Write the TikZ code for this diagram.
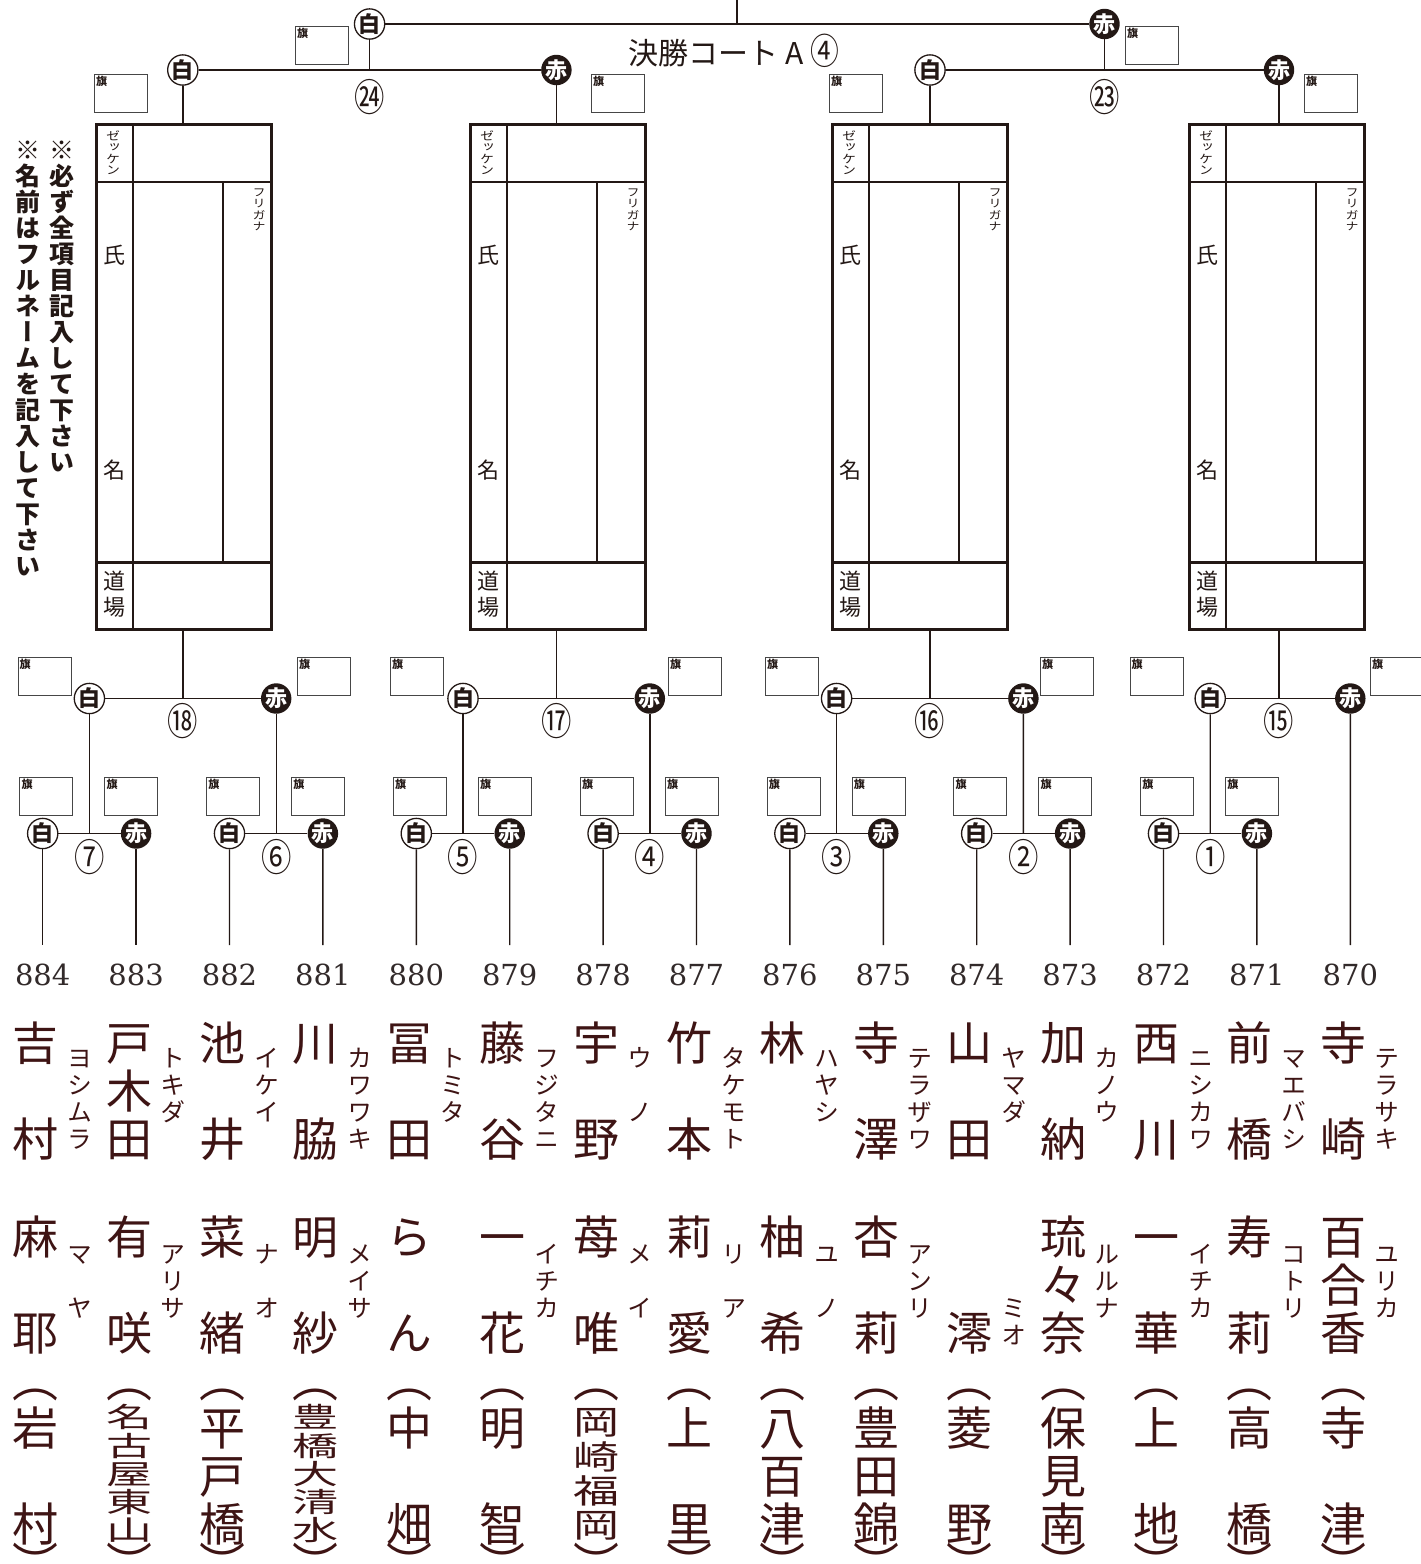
\documentclass[tikz,border=0pt]{standalone}
\usepackage{fontspec}
\usepackage{graphicx}
\newfontfamily\jp{Noto Sans CJK JP}
\newfontfamily\vjp[RawFeature=+vert]{Noto Sans CJK JP}
\newfontfamily\numfont{DejaVu Serif}
\definecolor{ink}{RGB}{35,24,21}
\definecolor{namecol}{RGB}{62,20,20}
\definecolor{numcol}{RGB}{50,42,42}
\definecolor{flagcol}{RGB}{70,70,70}

% vertical text: one character per cell
\newlength\tatepitch
\newcommand\tatescl{1}
\newcommand\tatetext[3]{%
  \setlength\tatepitch{#1}\renewcommand\tatescl{#2}%
  \vbox{\offinterlineskip\expandafter\tateA#3\relax}}
\newcommand\tateA[1]{%
  \ifx\relax#1\else
    \vbox to\tatepitch{\vss\hbox to 1em{\hss\scalebox{1}[\tatescl]{\vrule height .88em depth .12em width 0pt\relax#1}\hss}\vss}%
    \expandafter\tateA
  \fi}
\newcommand\maru[1]{\scalebox{0.8}[1]{#1}}

\tikzset{
  bline/.style={draw=ink, line width=1.4pt},
  shiro/.style={circle, draw=ink, line width=1.3pt, fill=white, minimum size=29pt, inner sep=0pt,
    text=ink, font=\jp\bfseries\fontsize{22pt}{22pt}\selectfont},
  aka/.style={circle, fill=ink, minimum size=30pt, inner sep=0pt,
    text=white, font=\jp\bfseries\fontsize{22pt}{22pt}\selectfont},
  flag/.style={draw=flagcol, line width=1pt, minimum width=53pt, minimum height=38pt, inner sep=0pt,
    anchor=north west, label={[anchor=north west, inner sep=2pt, text=ink,
    font=\jp\bfseries\fontsize{11pt}{11pt}\selectfont]north west:旗}},
  form/.style={draw=ink, line width=2.6pt, minimum width=175pt, minimum height=505pt, inner sep=0pt},
  formline/.style={draw=ink, line width=2.6pt},
  formthin/.style={draw=ink, line width=2pt},
  flab/.style={inner sep=0pt, text=ink, font=\vjp\fontsize{22pt}{26pt}\selectfont},
  ftiny/.style={anchor=north, inner sep=0pt, text=ink, font=\vjp\fontsize{14pt}{14pt}\selectfont},
  note/.style={anchor=north, inner sep=0pt, text=ink, font=\vjp\bfseries\fontsize{25pt}{26pt}\selectfont},
  kanji/.style={anchor=north, inner sep=0pt, text=namecol, font=\vjp\fontsize{46pt}{48pt}\selectfont},
  kana/.style={anchor=north, inner sep=0pt, text=namecol, font=\vjp\fontsize{25pt}{27pt}\selectfont},
  plnum/.style={inner sep=0pt, text=numcol, font=\numfont\fontsize{29pt}{29pt}\selectfont},
  mnum/.style={inner sep=0pt, text=ink, font=\jp\fontsize{38pt}{38pt}\selectfont},
  court/.style={inner sep=0pt, text=ink, font=\jp\fontsize{30pt}{30pt}\selectfont}
}

% entry form: name, left x
\newcommand\entryform[2]{%
  \node[form, anchor=north west] (#1) at (#2,123) {};
  \draw[formline] ([yshift=-59pt]#1.north west) -- ([yshift=-59pt]#1.north east);
  \draw[formline] ([yshift=68pt]#1.south west) -- ([yshift=68pt]#1.south east);
  \draw[formline] ([xshift=38pt]#1.north west) -- ([xshift=38pt]#1.south west);
  \draw[formthin] ([shift={(128pt,-59pt)}]#1.north west) -- ([shift={(128pt,68pt)}]#1.south west);
  \node[ftiny] at ([shift={(18pt,-7pt)}]#1.north west) {\tatetext{11.5pt}{0.85}{ゼッケン}};
  \node[flab] at ([shift={(19pt,-132pt)}]#1.north west) {氏};
  \node[flab] at ([shift={(19pt,-347pt)}]#1.north west) {名};
  \node[flab, anchor=north] at ([shift={(19pt,-445pt)}]#1.north west) {\tatetext{26pt}{1}{道場}};
  \node[ftiny, font=\vjp\fontsize{13pt}{13pt}\selectfont] at ([shift={(164pt,-63pt)}]#1.north west) {\tatetext{11.5pt}{0.85}{フリガナ}};
}

% entrant column: k, number, surname, kana, given name, kana, dojo, dojo size
\newcommand\entrant[8]{%
  \pgfmathsetmacro\px{42.7+93.4*#1}%
  \ifcase#8 \def\djgap{0pt}\def\djgapb{-8pt}\def\djpitch{48pt}\def\djscale{1}%
  \or \def\djgap{1pt}\def\djgapb{-2pt}\def\djpitch{34.3pt}\def\djscale{0.72}%
  \or \def\djgap{-1pt}\def\djgapb{-4pt}\def\djpitch{28.2pt}\def\djscale{0.6}\fi
  \coordinate (p#1) at (\px,945);
  \node[plnum] (n#1) at (\px,975) {#2};
  \node[kanji] (sn#1) at (\px-7,1019) {\tatetext{48pt}{1}{#3}};
  \node[kana] (sk#1) at (\px+37,1044.5) {\tatetext{27pt}{1}{#4}};
  \node[kanji] (gn#1) at (\px-7,1213) {\tatetext{48pt}{1}{#5}};
  \node[kana] (gk#1) at (\px+37,1240.5) {\tatetext{27pt}{1}{#6}};
  \node[kanji] (dj#1) at (\px-7,1356) {\vbox{\offinterlineskip
    \tatetext{48pt}{1}{︵}\vskip\djgap
    \tatetext{\djpitch}{\djscale}{#7}\vskip\djgapb
    \tatetext{48pt}{1}{︶}}};
}

\begin{document}
\begin{tikzpicture}[x=1pt, y=-1pt]
  \path[use as bounding box, fill=white] (0,0) rectangle (1421,1564);

  % notes
  \node[note] (note1) at (61.5,137) {\tatetext{26pt}{1}{※必ず全項目記入して下さい}};
  \node[note] (note2) at (28,137) {\tatetext{26pt}{1}{※名前はフルネームを記入して下さい}};

  % entry forms
  \entryform{form1}{95}
  \entryform{form2}{469}
  \entryform{form3}{831}
  \entryform{form4}{1188}

  % entrants
  \entrant{0}{884}{吉　村}{ヨシムラ}{麻　耶}{マ　ヤ}{岩　村}{0}
  \entrant{1}{883}{戸木田}{トキダ}{有　咲}{アリサ}{名古屋東山}{2}
  \entrant{2}{882}{池　井}{イケイ}{菜　緒}{ナ　オ}{平戸橋}{0}
  \entrant{3}{881}{川　脇}{カワワキ}{明　紗}{メイサ}{豊橋大清水}{2}
  \entrant{4}{880}{冨　田}{トミタ}{ら　ん}{}{中　畑}{0}
  \entrant{5}{879}{藤　谷}{フジタニ}{一　花}{イチカ}{明　智}{0}
  \entrant{6}{878}{宇　野}{ウ　ノ}{苺　唯}{メ　イ}{岡崎福岡}{1}
  \entrant{7}{877}{竹　本}{タケモト}{莉　愛}{リ　ア}{上　里}{0}
  \entrant{8}{876}{林}{ハヤシ}{柚　希}{ユ　ノ}{八百津}{0}
  \entrant{9}{875}{寺　澤}{テラザワ}{杏　莉}{アンリ}{豊田錦}{0}
  \entrant{10}{874}{山　田}{ヤマダ}{　　澪}{　　ミオ}{菱　野}{0}
  \entrant{11}{873}{加　納}{カノウ}{琉々奈}{ルルナ}{保見南}{0}
  \entrant{12}{872}{西　川}{ニシカワ}{一　華}{イチカ}{上　地}{0}
  \entrant{13}{871}{前　橋}{マエバシ}{寿　莉}{コトリ}{高　橋}{0}
  \entrant{14}{870}{寺　崎}{テラサキ}{百合香}{ユリカ}{寺　津}{0}

  % first round
  \foreach \i/\cn in {0/⑦,1/⑥,2/⑤,3/④,4/③,5/②,6/①}{
    \pgfmathtruncatemacro\m{7-\i}
    \pgfmathtruncatemacro\kw{2*\i}
    \pgfmathtruncatemacro\kr{2*\i+1}
    \pgfmathsetmacro\xw{42.7+186.8*\i}
    \node[shiro] (w\m) at (\xw,833.5) {白};
    \node[aka] (r\m) at (\xw+93.4,833.5) {赤};
    \coordinate (j\m) at (\xw+46.7,833.5);
    \draw[bline] (w\m) -- (r\m);
    \draw[bline] (w\m) -- (p\kw);
    \draw[bline] (r\m) -- (p\kr);
    \node[mnum] (c\m) at (\xw+46.7,857) {\maru{\cn}};
    \node[flag] at (\xw+46.7-70,777) {};
    \node[flag] at (\xw+46.7+15,777) {};
  }

  % quarter finals
  \foreach \q/\a/\b/\xa/\xb/\cn in {18/7/6/89.4/276.2/⑱,17/5/4/463/649.8/⑰,16/3/2/836.6/1023.4/⑯}{
    \node[shiro] (w\q) at (\xa,698.5) {白};
    \node[aka] (r\q) at (\xb,698.5) {赤};
    \coordinate (q\q) at ({(\xa+\xb)/2},698.5);
    \draw[bline] (w\q) -- (r\q);
    \draw[bline] (j\a) -- (w\q);
    \draw[bline] (j\b) -- (r\q);
    \node[mnum] (c\q) at ({(\xa+\xb)/2},721) {\maru{\cn}};
  }
  \node[shiro] (w15) at (1210.2,698.5) {白};
  \node[aka] (r15) at (1350.3,698.5) {赤};
  \coordinate (q15) at (1279,698.5);
  \draw[bline] (w15) -- (r15);
  \draw[bline] (j1) -- (w15);
  \draw[bline] (r15) -- (p14);
  \node[mnum] (c15) at (1279,721) {\maru{⑮}};

  % semi finals
  \node[shiro] (w24) at (182.8,70) {白};
  \node[aka] (r24) at (556.4,70) {赤};
  \coordinate (s24) at (369.6,70);
  \draw[bline] (w24) -- (r24);
  \draw[bline] (w24) -- (w24 |- form1.north);
  \draw[bline] (r24) -- (r24 |- form2.north);
  \draw[bline] (q18) -- (q18 |- form1.south);
  \draw[bline] (q17) -- (q17 |- form2.south);
  \node[mnum] (c24) at (369.6,97) {\maru{㉔}};

  \node[shiro] (w23) at (930,70) {白};
  \node[aka] (r23) at (1279,70) {赤};
  \coordinate (s23) at (1104.5,70);
  \draw[bline] (w23) -- (r23);
  \draw[bline] (w23) -- (w23 |- form3.north);
  \draw[bline] (r23) -- (r23 |- form4.north);
  \draw[bline] (q16) -- (q16 |- form3.south);
  \draw[bline] (q15) -- (q15 |- form4.south);
  \node[mnum] (c23) at (1104.5,97) {\maru{㉓}};

  % final
  \node[shiro] (wF) at (369.6,24) {白};
  \node[aka] (rF) at (1104.5,24) {赤};
  \coordinate (f) at (737,24);
  \coordinate (top) at (737,0);
  \draw[bline] (wF) -- (rF);
  \draw[bline] (s24) -- (wF);
  \draw[bline] (s23) -- (rF);
  \draw[bline] (f) -- (top);
  \node[court] (court) at (734,51) {決勝コート A {\fontsize{36pt}{36pt}\selectfont\maru{④}}};

  % flags
  \foreach \x/\y in {295/26,1125/26,94/74,591/74,829/74,1304/74,17.5/657,297/657,
    390/657,668/657,765/657,1040/657,1129.5/657,1370/657}
    \node[flag] at (\x,\y) {};
\end{tikzpicture}
\end{document}
